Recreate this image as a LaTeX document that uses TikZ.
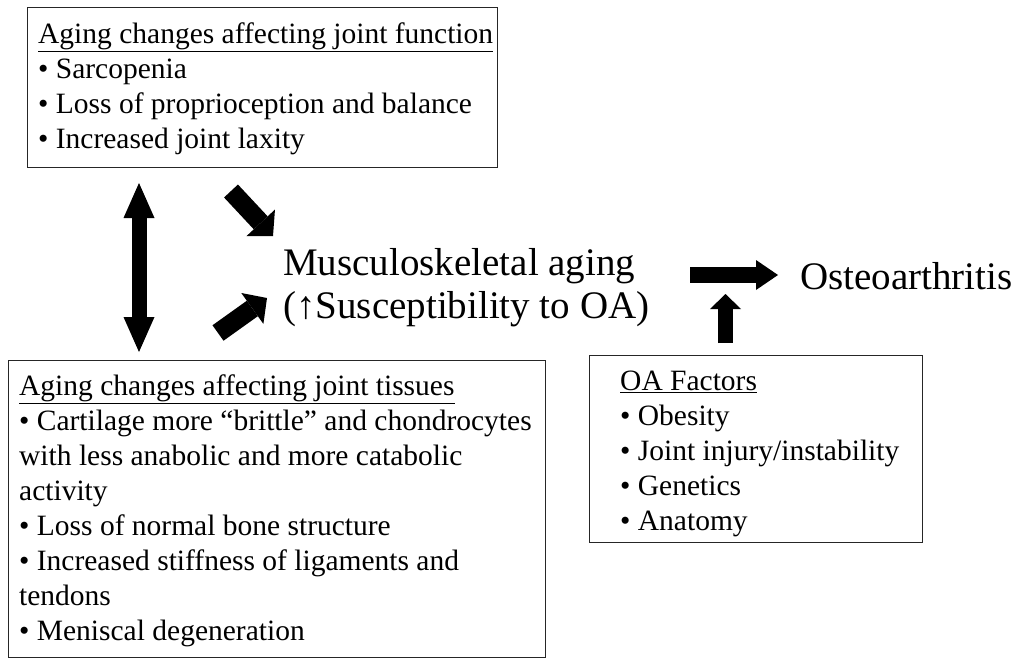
\documentclass[tikz,border=0pt]{standalone}
\usepackage{fontspec}
\setmainfont{Liberation Serif}
\usetikzlibrary{arrows.meta}
\tikzset{
  box/.style={draw=black!85, line width=1.3pt, anchor=north west, inner sep=0pt, minimum width=#1},
  boxtext/.style={anchor=north west, inner sep=0pt, align=left, font=\fontsize{29.5}{35}\selectfont},
  bigtext/.style={inner sep=0pt, align=left, font=\fontsize{39}{43}\selectfont},
  fat/.style={line width=#1, draw=black}
}
\begin{document}
\begin{tikzpicture}[x=1pt,y=-1pt]
\useasboundingbox (0,0) rectangle (1018,661);
% boxes
\node[box=470pt, minimum height=160pt] (b1) at (27,7) {};
\node[box=537pt, minimum height=297pt] (b2) at (8,360) {};
\node[box=333pt, minimum height=187pt] (b3) at (589,355) {};
% box texts
\node[boxtext] (t1) at (38,19) {\rule{0pt}{24pt}\underline{Aging changes affecting joint function}\\
• Sarcopenia\\
• Loss of proprioception and balance\\
• Increased joint laxity};
\node[boxtext] (t2) at (19,371) {\rule{0pt}{24pt}\underline{Aging changes affecting joint tissues}\\
• Cartilage more “brittle” and chondrocytes\\
with less anabolic and more catabolic\\
activity\\
• Loss of normal bone structure\\
• Increased stiffness of ligaments and\\
tendons\\
• Meniscal degeneration};
\node[boxtext] (t3) at (620,366) {\rule{0pt}{24pt}\underline{OA Factors}\\
• Obesity\\
• Joint injury/instability\\
• Genetics\\
• Anatomy};
% central texts
\node[bigtext, anchor=north west] (ms) at (283,245) {\rule{0pt}{30pt}Musculoskeletal aging\\(↑Susceptibility to OA)};
\node[bigtext, anchor=base west] (oa) at (800,289) {Osteoarthritis};
% arrow end points
\coordinate (dA) at (139,352);
\coordinate (dB) at (139,183);
\coordinate (a1s) at (231,191);
\coordinate (a1e) at (273,236);
\coordinate (a2s) at (218,333);
\coordinate (a2e) at (267,298);
\coordinate (hs) at (690,275);
\coordinate (he) at (778,275);
\coordinate (us) at (725.5,343);
\coordinate (ue) at (725.5,294);
% arrows
\draw[fat=15pt, {Triangle[length=35pt 0 0, width=31pt 0 0, line width=0pt]}-{Triangle[length=35pt 0 0, width=31pt 0 0, line width=0pt]}] (dA) -- (dB);
\draw[fat=19pt, -{Triangle[length=18pt 0 0, width=39pt 0 0, line width=0pt]}] (a1s) -- (a1e);
\draw[fat=19pt, -{Triangle[length=18pt 0 0, width=38pt 0 0, line width=0pt]}] (a2s) -- (a2e);
\draw[fat=16pt, -{Triangle[length=22pt 0 0, width=30pt 0 0, line width=0pt]}] (hs) -- (he);
\draw[fat=15pt, -{Triangle[length=15pt 0 0, width=31pt 0 0, line width=0pt]}] (us) -- (ue);
\end{tikzpicture}
\end{document}
